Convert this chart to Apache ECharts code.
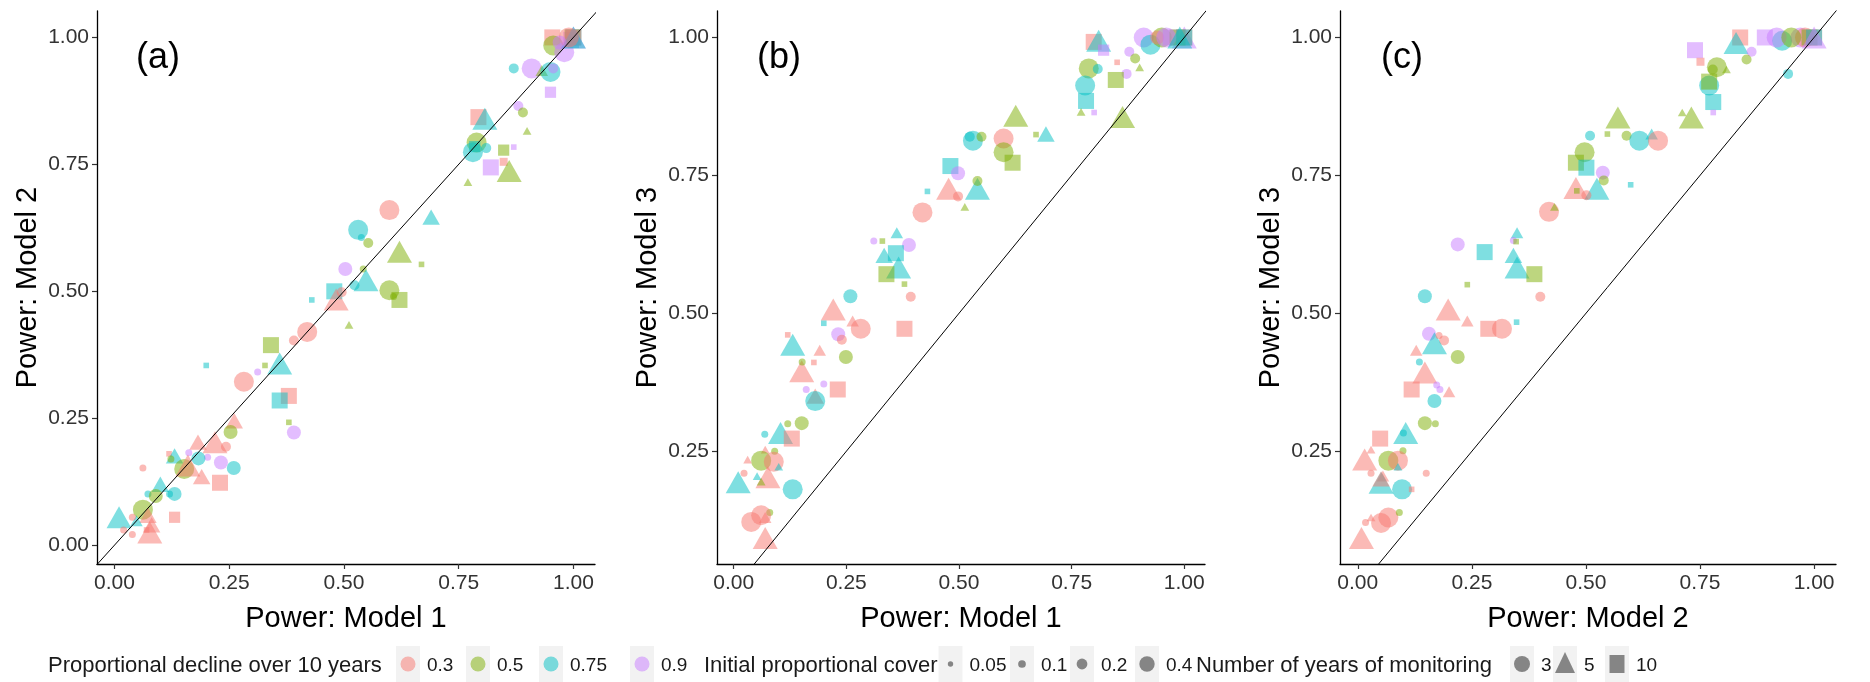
<!DOCTYPE html>
<html>
<head>
<meta charset="utf-8">
<script src="https://cdn.jsdelivr.net/npm/echarts@6/dist/echarts.min.js"></script>
<style>
html,body{margin:0;padding:0;background:#fff;}
#chart{width:1870px;height:682px;}
</style>
</head>
<body>
<div id="chart"></div>
<script>
// ---- levels / legend categories ----
const declineLevels = [0.3, 0.5, 0.75, 0.9];
const declineColors = ['#F8766D', '#7CAE00', '#00BFC4', '#C77CFF'];
const coverLevels = [0.05, 0.1, 0.2, 0.4];
const yearLevels = [3, 5, 10];
const tickValues = [0, 0.25, 0.5, 0.75, 1];
const panelLabels = ['(a)', '(b)', '(c)'];
const xTitles = ['Power: Model 1', 'Power: Model 1', 'Power: Model 2'];
const yTitles = ['Power: Model 2', 'Power: Model 3', 'Power: Model 3'];
const legendTitles = ['Proportional decline over 10 years', 'Initial proportional cover', 'Number of years of monitoring'];

// ---- data: [x, y, decline, cover, years] ----
const panelA = [
[0.954,1.0,0.3,0.4,10],[0.99,1.0,0.9,0.2,10],[0.956,0.984,0.5,0.4,3],[0.98,0.971,0.9,0.4,3],
[1.0,0.99,0.75,0.2,10],[0.998,1.0,0.5,0.4,10],[1.0,1.0,0.75,0.4,10],[1.0,1.0,0.3,0.4,10],
[1.0,1.0,0.9,0.4,5],[1.0,1.0,0.75,0.4,5],[0.99,1.0,0.3,0.4,3],[0.97,0.99,0.9,0.2,3],
[0.87,0.939,0.75,0.1,3],[0.909,0.939,0.9,0.4,3],[0.931,0.935,0.5,0.1,5],[0.95,0.932,0.75,0.4,3],
[0.956,0.939,0.9,0.1,3],[0.95,0.892,0.9,0.2,10],[0.88,0.865,0.9,0.1,3],[0.89,0.852,0.5,0.1,3],
[0.899,0.816,0.5,0.05,5],[0.793,0.843,0.3,0.4,10],[0.807,0.840,0.75,0.4,5],[0.789,0.793,0.5,0.4,3],
[0.781,0.774,0.75,0.4,3],[0.81,0.782,0.75,0.1,3],[0.785,0.785,0.75,0.2,10],[0.848,0.778,0.5,0.2,10],
[0.848,0.755,0.3,0.1,10],[0.870,0.784,0.9,0.05,10],[0.82,0.744,0.9,0.4,10],[0.86,0.737,0.5,0.4,5],
[0.77,0.715,0.5,0.05,5],[0.599,0.66,0.3,0.4,3],[0.69,0.646,0.75,0.2,5],[0.531,0.621,0.75,0.4,3],
[0.538,0.606,0.75,0.05,3],[0.553,0.595,0.5,0.1,3],[0.621,0.578,0.5,0.4,5],[0.669,0.553,0.5,0.05,10],
[0.503,0.544,0.9,0.2,3],[0.542,0.544,0.5,0.05,3],[0.548,0.522,0.75,0.4,5],[0.523,0.512,0.75,0.1,3],
[0.599,0.502,0.5,0.4,3],[0.621,0.483,0.5,0.4,10],[0.608,0.49,0.5,0.05,3],[0.479,0.5,0.75,0.4,10],
[0.483,0.484,0.3,0.4,5],[0.495,0.498,0.3,0.1,3],[0.43,0.483,0.75,0.05,10],[0.511,0.434,0.5,0.05,5],
[0.42,0.42,0.3,0.4,3],[0.391,0.403,0.3,0.1,3],[0.341,0.394,0.5,0.4,10],[0.328,0.354,0.5,0.05,10],
[0.36,0.358,0.75,0.4,5],[0.2,0.354,0.75,0.05,10],[0.312,0.341,0.9,0.05,3],[0.282,0.322,0.3,0.4,3],
[0.38,0.294,0.3,0.4,10],[0.36,0.285,0.75,0.4,10],[0.38,0.242,0.5,0.05,10],[0.391,0.222,0.9,0.2,3],
[0.261,0.245,0.3,0.2,5],[0.253,0.223,0.5,0.2,3],[0.219,0.203,0.3,0.4,5],[0.182,0.203,0.3,0.2,5],
[0.243,0.194,0.3,0.1,3],[0.162,0.182,0.9,0.05,3],[0.203,0.173,0.9,0.05,3],[0.119,0.18,0.3,0.05,10],
[0.131,0.176,0.75,0.2,5],[0.123,0.17,0.5,0.05,3],[0.183,0.171,0.75,0.2,3],[0.232,0.163,0.9,0.2,3],
[0.26,0.152,0.75,0.2,3],[0.152,0.15,0.5,0.4,3],[0.16,0.157,0.3,0.4,5],[0.19,0.135,0.3,0.2,5],
[0.23,0.123,0.3,0.4,10],[0.062,0.152,0.3,0.05,3],[0.131,0.101,0.75,0.2,3],[0.12,0.101,0.75,0.05,3],
[0.073,0.101,0.75,0.05,3],[0.1,0.12,0.75,0.2,5],[0.09,0.097,0.5,0.2,3],[0.131,0.055,0.3,0.2,10],
[0.062,0.07,0.5,0.4,3],[0.073,0.059,0.3,0.2,5],[0.01,0.055,0.75,0.4,5],[0.048,0.048,0.75,0.1,5],
[0.039,0.055,0.3,0.05,3],[0.039,0.021,0.3,0.05,3],[0.02,0.03,0.3,0.05,3],[0.077,0.025,0.3,0.4,5],
[0.081,0.04,0.3,0.2,5],[0.07,0.03,0.3,0.05,10]
];

const panelB = [
[0.799,0.992,0.3,0.4,10],[0.81,0.994,0.75,0.4,5],[0.821,0.977,0.9,0.2,10],[0.91,1.0,0.9,0.4,3],
[0.925,0.987,0.75,0.4,3],[0.95,1.0,0.5,0.4,3],[0.94,1.0,0.3,0.2,3],[0.97,1.0,0.9,0.4,10],
[1.0,1.0,0.9,0.4,5],[0.985,1.0,0.5,0.4,10],[1.0,1.0,0.3,0.4,10],[1.0,1.0,0.75,0.4,10],
[0.96,1.0,0.9,0.4,3],[0.99,1.0,0.75,0.4,5],[0.878,0.974,0.9,0.1,3],[0.891,0.962,0.5,0.1,3],
[0.901,0.946,0.5,0.05,5],[0.851,0.955,0.3,0.05,10],[0.872,0.934,0.9,0.1,3],[0.848,0.923,0.5,0.4,10],
[0.788,0.944,0.5,0.4,3],[0.808,0.943,0.75,0.1,3],[0.78,0.913,0.75,0.4,3],[0.782,0.885,0.75,0.4,10],
[0.771,0.865,0.5,0.05,5],[0.8,0.864,0.9,0.05,10],[0.863,0.856,0.5,0.4,5],[0.626,0.858,0.5,0.4,5],
[0.531,0.813,0.75,0.4,3],[0.524,0.82,0.75,0.1,3],[0.55,0.82,0.5,0.1,3],[0.599,0.817,0.3,0.4,3],
[0.599,0.792,0.5,0.4,3],[0.619,0.773,0.5,0.4,10],[0.671,0.824,0.5,0.05,10],[0.693,0.825,0.75,0.2,5],
[0.481,0.767,0.75,0.4,10],[0.498,0.754,0.9,0.2,3],[0.477,0.726,0.3,0.4,5],[0.498,0.712,0.3,0.1,3],
[0.513,0.693,0.5,0.05,5],[0.43,0.721,0.75,0.05,10],[0.541,0.726,0.75,0.4,5],[0.541,0.74,0.5,0.1,3],
[0.419,0.683,0.3,0.4,3],[0.311,0.631,0.9,0.05,3],[0.33,0.631,0.5,0.05,10],[0.362,0.646,0.75,0.1,5],
[0.389,0.624,0.9,0.2,3],[0.334,0.605,0.75,0.2,5],[0.36,0.609,0.75,0.4,10],[0.366,0.583,0.75,0.4,5],
[0.339,0.571,0.5,0.4,10],[0.379,0.553,0.5,0.05,10],[0.393,0.53,0.3,0.1,3],[0.259,0.531,0.75,0.2,3],
[0.221,0.507,0.3,0.4,5],[0.264,0.486,0.3,0.1,5],[0.282,0.472,0.3,0.4,3],[0.379,0.472,0.3,0.4,10],
[0.2,0.482,0.75,0.05,10],[0.232,0.462,0.9,0.2,3],[0.24,0.452,0.3,0.1,3],[0.12,0.461,0.3,0.05,10],
[0.131,0.443,0.75,0.4,5],[0.191,0.433,0.3,0.1,5],[0.249,0.421,0.5,0.2,3],[0.151,0.395,0.3,0.4,5],
[0.152,0.412,0.5,0.05,3],[0.178,0.411,0.3,0.05,10],[0.161,0.362,0.9,0.05,3],[0.2,0.372,0.9,0.05,3],
[0.231,0.362,0.3,0.4,10],[0.181,0.35,0.3,0.2,5],[0.181,0.341,0.75,0.4,3],[0.151,0.301,0.5,0.2,3],
[0.12,0.3,0.5,0.05,3],[0.069,0.281,0.75,0.05,3],[0.104,0.283,0.75,0.4,5],[0.129,0.273,0.3,0.4,10],
[0.091,0.25,0.5,0.05,3],[0.07,0.253,0.3,0.05,5],[0.031,0.235,0.3,0.05,5],[0.061,0.233,0.5,0.4,3],
[0.089,0.231,0.3,0.4,3],[0.1,0.222,0.75,0.05,5],[0.023,0.21,0.3,0.05,3],[0.01,0.194,0.75,0.4,5],
[0.052,0.205,0.75,0.05,5],[0.076,0.203,0.3,0.4,5],[0.061,0.195,0.5,0.05,5],[0.131,0.181,0.75,0.4,3],
[0.08,0.139,0.5,0.05,3],[0.039,0.122,0.3,0.4,3],[0.061,0.134,0.3,0.4,3],[0.07,0.13,0.3,0.1,5],
[0.07,0.093,0.3,0.4,5]
];

const panelC = [
[0.838,1.0,0.3,0.4,10],[0.829,0.99,0.75,0.4,5],[0.892,1.0,0.9,0.4,10],[0.739,0.977,0.9,0.4,10],
[0.751,0.956,0.3,0.1,10],[0.863,0.974,0.9,0.1,3],[0.852,0.96,0.5,0.1,3],[0.93,0.994,0.75,0.4,3],
[0.918,1.0,0.9,0.4,3],[0.97,1.0,0.9,0.4,3],[0.98,1.0,0.3,0.4,3],[0.99,1.0,0.5,0.4,10],
[1.0,1.0,0.3,0.4,10],[1.0,1.0,0.75,0.4,10],[1.0,1.0,0.9,0.4,5],[0.95,1.0,0.5,0.4,3],
[0.787,0.946,0.5,0.4,3],[0.778,0.942,0.5,0.1,3],[0.808,0.942,0.5,0.05,5],[0.77,0.913,0.75,0.4,3],
[0.77,0.92,0.5,0.4,10],[0.779,0.883,0.75,0.4,10],[0.779,0.864,0.9,0.05,10],[0.943,0.934,0.75,0.1,3],
[0.57,0.855,0.5,0.4,5],[0.711,0.864,0.5,0.05,5],[0.731,0.855,0.5,0.4,5],[0.509,0.822,0.75,0.1,3],
[0.547,0.825,0.5,0.05,10],[0.589,0.822,0.5,0.1,3],[0.617,0.813,0.75,0.4,3],[0.644,0.825,0.75,0.1,5],
[0.658,0.813,0.3,0.4,3],[0.497,0.792,0.5,0.4,3],[0.478,0.773,0.5,0.4,10],[0.501,0.764,0.75,0.4,10],
[0.537,0.755,0.9,0.2,3],[0.539,0.741,0.5,0.1,3],[0.478,0.727,0.3,0.4,5],[0.524,0.726,0.75,0.4,5],
[0.48,0.722,0.5,0.05,10],[0.501,0.714,0.3,0.1,3],[0.598,0.733,0.75,0.05,10],[0.419,0.684,0.3,0.4,3],
[0.431,0.693,0.5,0.05,5],[0.219,0.625,0.9,0.2,3],[0.349,0.646,0.75,0.1,5],[0.341,0.632,0.9,0.05,3],
[0.347,0.63,0.5,0.05,10],[0.278,0.611,0.75,0.4,10],[0.341,0.605,0.75,0.2,5],[0.349,0.583,0.75,0.4,5],
[0.387,0.571,0.5,0.4,10],[0.24,0.552,0.5,0.05,10],[0.4,0.53,0.3,0.1,3],[0.147,0.531,0.75,0.2,3],
[0.198,0.507,0.3,0.4,5],[0.24,0.486,0.3,0.1,5],[0.348,0.484,0.75,0.05,10],[0.286,0.472,0.3,0.4,10],
[0.316,0.472,0.3,0.4,3],[0.156,0.463,0.9,0.2,3],[0.189,0.451,0.3,0.1,3],[0.168,0.446,0.75,0.4,5],
[0.178,0.46,0.3,0.05,3],[0.128,0.433,0.3,0.1,5],[0.219,0.421,0.5,0.2,3],[0.135,0.412,0.75,0.05,3],
[0.147,0.393,0.3,0.4,5],[0.173,0.37,0.9,0.05,3],[0.18,0.362,0.9,0.05,3],[0.118,0.362,0.3,0.4,10],
[0.2,0.358,0.3,0.1,5],[0.168,0.341,0.75,0.2,3],[0.147,0.301,0.5,0.2,3],[0.17,0.3,0.5,0.05,3],
[0.105,0.283,0.75,0.4,5],[0.1,0.283,0.75,0.05,3],[0.049,0.273,0.3,0.4,10],[0.099,0.251,0.5,0.05,3],
[0.029,0.253,0.3,0.05,5],[0.015,0.235,0.3,0.4,5],[0.067,0.233,0.5,0.4,3],[0.088,0.233,0.3,0.4,3],
[0.088,0.222,0.75,0.05,5],[0.029,0.21,0.3,0.05,3],[0.055,0.205,0.3,0.1,5],[0.15,0.21,0.3,0.05,3],
[0.051,0.193,0.75,0.4,5],[0.051,0.2,0.3,0.2,5],[0.097,0.181,0.75,0.4,3],[0.118,0.181,0.3,0.05,10],
[0.017,0.121,0.3,0.05,3],[0.051,0.12,0.3,0.4,3],[0.067,0.13,0.3,0.4,3],[0.029,0.13,0.3,0.05,5],
[0.091,0.139,0.5,0.05,3],[0.008,0.093,0.3,0.4,5]
];

const panels = [panelA, panelB, panelC];

// ---- layout ----
const FONT = 'Liberation Sans, Arial, sans-serif';
const grids = [
  {left: 97, top: 11, width: 498, height: 553},
  {left: 717, top: 11, width: 488, height: 553},
  {left: 1340, top: 11, width: 496, height: 553}
];
const xRanges = [[-0.038, 1.047], [-0.037, 1.046], [-0.039, 1.048]];
const yRanges = [[-0.037, 1.052], [0.0457, 1.048], [0.0457, 1.048]];
const baseDiam = [7, 10, 14, 20];

function symbolFor(years) {
  if (years === 5) return 'triangle';
  if (years === 10) return 'rect';
  return 'circle';
}
function sizeFor(cover, years) {
  const d = baseDiam[coverLevels.indexOf(cover)];
  if (years === 5) return [d * 1.25, d * 1.1];
  if (years === 10) return [d * 0.8, d * 0.8];
  return d;
}
function colorFor(decline) { return declineColors[declineLevels.indexOf(decline)]; }

const chart = echarts.init(document.getElementById('chart'), null, {renderer: 'canvas'});

const xAxes = [], yAxes = [], series = [];
grids.forEach((g, i) => {
  const yTicks = tickValues.filter(v => v >= yRanges[i][0]);
  xAxes.push({
    type: 'value', gridIndex: i, min: xRanges[i][0], max: xRanges[i][1],
    axisLine: {show: true, onZero: false, lineStyle: {color: '#000', width: 1.3}},
    axisTick: {show: true, length: 5, customValues: tickValues, lineStyle: {color: '#333', width: 1.2}},
    axisLabel: {customValues: tickValues, formatter: v => v.toFixed(2), fontSize: 21, color: '#333', fontFamily: FONT, margin: 9},
    splitLine: {show: false},
    name: xTitles[i], nameLocation: 'middle', nameGap: 40,
    nameTextStyle: {fontSize: 29, color: '#000', fontFamily: FONT}
  });
  yAxes.push({
    type: 'value', gridIndex: i, min: yRanges[i][0], max: yRanges[i][1],
    axisLine: {show: true, onZero: false, lineStyle: {color: '#000', width: 1.3}},
    axisTick: {show: true, length: 5, customValues: yTicks, lineStyle: {color: '#333', width: 1.2}},
    axisLabel: {customValues: yTicks, formatter: v => v.toFixed(2), fontSize: 21, color: '#333', fontFamily: FONT, margin: 8},
    splitLine: {show: false},
    name: yTitles[i], nameLocation: 'middle', nameGap: 55, nameRotate: 90,
    nameTextStyle: {fontSize: 29, color: '#000', fontFamily: FONT}
  });
  series.push({
    type: 'scatter', xAxisIndex: i, yAxisIndex: i,
    data: panels[i].map(p => ({
      value: p,
      symbol: symbolFor(p[4]),
      symbolSize: sizeFor(p[3], p[4]),
      itemStyle: {color: colorFor(p[2]), opacity: 0.5}
    })),
    z: 2, silent: true
  });
  series.push({
    type: 'line', xAxisIndex: i, yAxisIndex: i,
    data: [[-1, -1], [2, 2]], symbol: 'none', clip: true, silent: true,
    lineStyle: {color: '#000', width: 1}, z: 3
  });
});

// ---- legend (graphic) ----
const graphic = [];
const keyY = 664, keyW = 24, keyH = 36, textY = 666;
function keyBox(cx) {
  graphic.push({type: 'rect', shape: {x: cx - keyW / 2, y: keyY - keyH / 2, width: keyW, height: keyH}, style: {fill: '#F2F2F2'}, silent: true});
}
function txt(x, s, size) {
  graphic.push({type: 'text', x: x, y: textY, style: {text: s, font: size + 'px ' + FONT, fill: '#1a1a1a', verticalAlign: 'middle', align: 'left'}, silent: true});
}
// colour legend
txt(48, legendTitles[0], 22);
const colKeyX = [408, 478, 551, 642];
declineLevels.forEach((d, k) => {
  keyBox(colKeyX[k]);
  graphic.push({type: 'circle', shape: {cx: colKeyX[k], cy: keyY, r: 7.5}, style: {fill: declineColors[k], opacity: 0.5}, silent: true});
  txt(colKeyX[k] + 19, String(d), 19);
});
// size legend
txt(704, legendTitles[1], 22);
const sizeKeyX = [950.5, 1022, 1082, 1147];
coverLevels.forEach((c, k) => {
  keyBox(sizeKeyX[k]);
  graphic.push({type: 'circle', shape: {cx: sizeKeyX[k], cy: keyY, r: baseDiam[k] / 2.6}, style: {fill: '#000', opacity: 0.45}, silent: true});
  txt(sizeKeyX[k] + 19, String(c), 19);
});
// shape legend
txt(1196, legendTitles[2], 22);
const shapeKeyX = [1522, 1565, 1617];
yearLevels.forEach((y, k) => {
  const cx = shapeKeyX[k];
  keyBox(cx);
  if (y === 3) graphic.push({type: 'circle', shape: {cx: cx, cy: keyY, r: 8}, style: {fill: '#000', opacity: 0.45}, silent: true});
  else if (y === 5) graphic.push({type: 'polygon', shape: {points: [[cx, keyY - 12], [cx - 10, keyY + 9], [cx + 10, keyY + 9]]}, style: {fill: '#000', opacity: 0.45}, silent: true});
  else graphic.push({type: 'rect', shape: {x: cx - 7.5, y: keyY - 9, width: 15, height: 18}, style: {fill: '#000', opacity: 0.45}, silent: true});
  txt(cx + 19, String(y), 19);
});
// panel labels
const panelLabelX = [136, 757, 1381];
panelLabels.forEach((l, i) => {
  graphic.push({type: 'text', x: panelLabelX[i], y: 58, style: {text: l, font: '36px ' + FONT, fill: '#000', verticalAlign: 'middle'}, silent: true});
});

chart.setOption({
  animation: false,
  backgroundColor: '#fff',
  grid: grids.map(g => Object.assign({outerBoundsMode: 'none'}, g)),
  xAxis: xAxes,
  yAxis: yAxes,
  series: series,
  graphic: graphic
});
</script>
</body>
</html>
